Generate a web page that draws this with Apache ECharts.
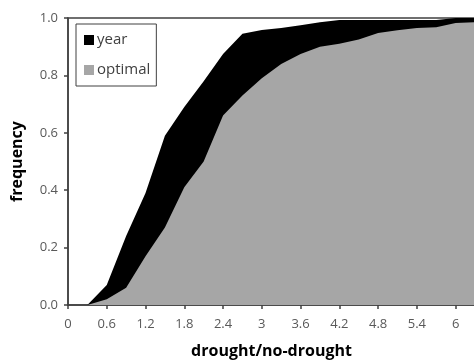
<!DOCTYPE html>
<html>
<head>
<meta charset="utf-8">
<script src="https://cdn.jsdelivr.net/npm/echarts@6/dist/echarts.min.js"></script>
<style>html,body{margin:0;padding:0;background:#fff}#c{width:474px;height:361px}</style>
</head>
<body>
<div id="c"></div>
<script>
const xValues = [0, 0.3, 0.6, 0.9, 1.2, 1.5, 1.8, 2.1, 2.4, 2.7, 3.0, 3.3, 3.6, 3.9, 4.2, 4.5, 4.8, 5.1, 5.4, 5.7, 6.0, 6.3];
const yearValues = [0, 0, 0.07, 0.24, 0.39, 0.59, 0.69, 0.78, 0.875, 0.945, 0.958, 0.965, 0.975, 0.985, 0.993, 0.993, 0.993, 0.993, 0.993, 0.993, 1.0, 1.0];
const optimalValues = [0, 0, 0.02, 0.06, 0.17, 0.27, 0.41, 0.50, 0.66, 0.73, 0.79, 0.84, 0.875, 0.90, 0.91, 0.925, 0.948, 0.957, 0.965, 0.968, 0.983, 0.985];
const seriesNames = ['year', 'optimal'];
const xTitle = 'drought/no-drought';
const yTitle = 'frequency';

const font = 'Open Sans';
const chart = echarts.init(document.getElementById('c'), null, {renderer: 'canvas'});
const pairs = vals => xValues.map((x, i) => [x, vals[i]]);
chart.setOption({
  animation: false,
  textStyle: {fontFamily: font},
  grid: {left: 68, top: 18, width: 407, height: 287, outerBoundsMode: 'none', containLabel: false,
         show: true, borderColor: '#404040', borderWidth: 1.5, backgroundColor: 'transparent'},
  legend: {
    left: 76, top: 24, orient: 'vertical', itemWidth: 10, itemHeight: 10, itemGap: 12,
    icon: 'rect', borderColor: '#404040', borderWidth: 1, padding: [7, 6, 7, 8],
    textStyle: {fontFamily: font, fontSize: 15, color: '#404040', padding: [0, 0, 0, -2], lineHeight: 18},
    data: seriesNames
  },
  xAxis: {
    type: 'value', min: 0, max: 6.3, interval: 0.6,
    name: xTitle, nameLocation: 'middle', nameGap: 38,
    nameTextStyle: {fontFamily: font, fontSize: 16, fontWeight: 'bold', color: '#000'},
    axisLine: {show: true, lineStyle: {color: '#404040', width: 1.5}},
    axisTick: {show: true, length: 4, lineStyle: {color: '#404040', width: 1.5}},
    axisLabel: {fontSize: 13, color: '#595959', margin: 13, showMaxLabel: false},
    splitLine: {show: false}
  },
  yAxis: {
    type: 'value', min: 0, max: 1, interval: 0.2,
    name: yTitle, nameLocation: 'middle', nameGap: 43,
    nameTextStyle: {fontFamily: font, fontSize: 16, fontWeight: 'bold', color: '#000'},
    axisLine: {show: true, lineStyle: {color: '#404040', width: 1.5}},
    axisTick: {show: true, length: 4, lineStyle: {color: '#404040', width: 1.5}},
    axisLabel: {fontSize: 13, color: '#595959', margin: 10, formatter: v => v.toFixed(1)},
    splitLine: {show: false}
  },
  series: [
    {name: seriesNames[0], type: 'line', data: pairs(yearValues), showSymbol: false, symbol: 'none',
     itemStyle: {color: '#000'}, lineStyle: {width: 0, color: '#000'}, areaStyle: {color: '#000', opacity: 1}, z: 1},
    {name: seriesNames[1], type: 'line', data: pairs(optimalValues), showSymbol: false, symbol: 'none',
     itemStyle: {color: '#a6a6a6'}, lineStyle: {width: 0, color: '#a6a6a6'}, areaStyle: {color: '#a6a6a6', opacity: 1}, z: 2}
  ]
});
</script>
</body>
</html>
